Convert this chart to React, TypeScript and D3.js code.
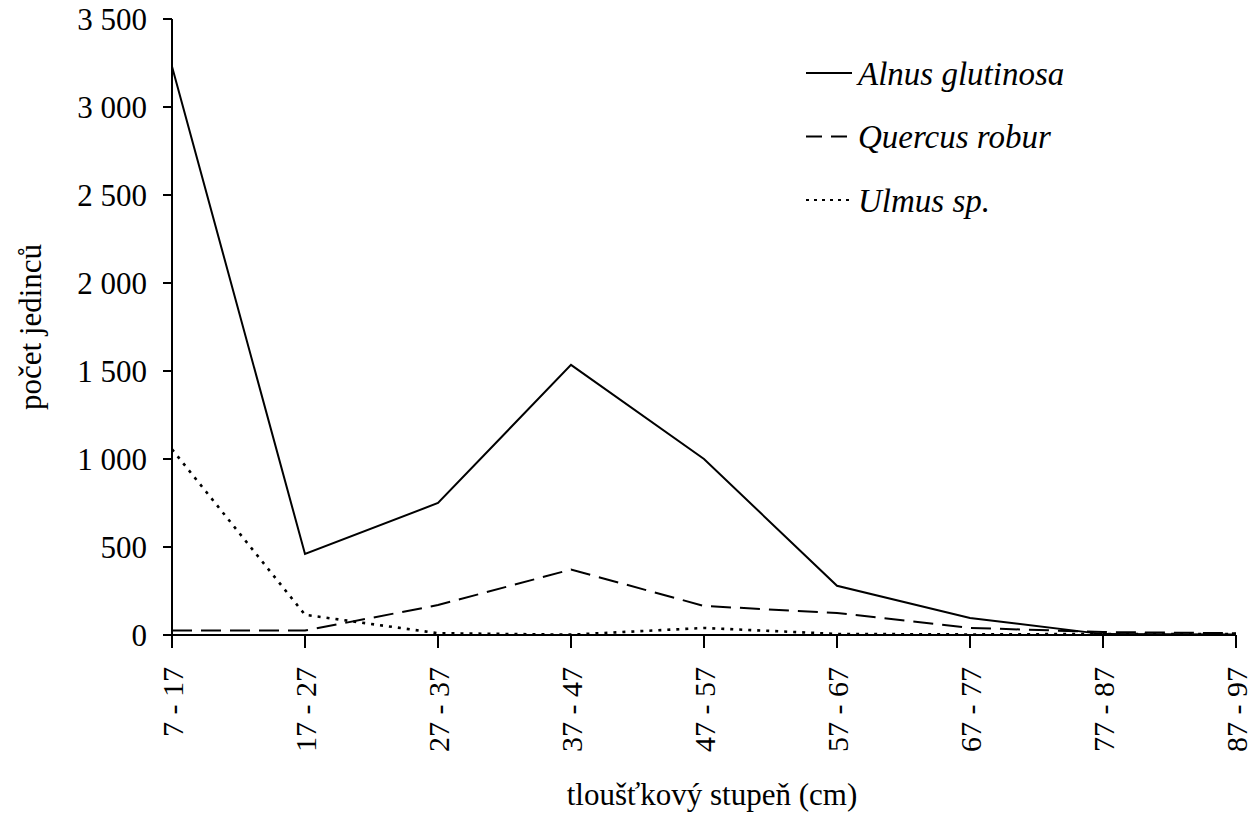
import React from "react";
import * as d3 from "d3";

// tloušťkové stupně (cm)
const classes = ["7 - 17", "17 - 27", "27 - 37", "37 - 47", "47 - 57", "57 - 67", "67 - 77", "77 - 87", "87 - 97"];

const alnus = [3230, 460, 750, 1535, 1000, 280, 97, 5, 3];
const quercus = [25, 25, 170, 372, 165, 125, 40, 17, 10];
const ulmus = [1055, 115, 10, 2, 40, 6, 3, 6, 6];

const yTicks = [0, 500, 1000, 1500, 2000, 2500, 3000, 3500];

const series = [
  { name: "Alnus glutinosa", values: alnus, dash: "none", legendDash: "none", width: 2 },
  { name: "Quercus robur", values: quercus, dash: "20,9", legendDash: "16,9", width: 2 },
  { name: "Ulmus sp.", values: ulmus, dash: "3,6", legendDash: "3,5", width: 2.6 },
];

const W = 1256;
const H = 836;
const FONT = "'Liberation Serif', 'Times New Roman', serif";

export default function App() {
  const x = d3.scalePoint<string>().domain(classes).range([172, 1236]);
  const y = d3.scaleLinear().domain([0, 3500]).range([635, 19]);

  const line = d3
    .line<number>()
    .x((_, i) => x(classes[i])!)
    .y((d) => y(d));

  const fmt = (v: number) => d3.format(",")(v).replace(/,/g, " ");

  return (
    <svg
      width={W}
      height={H}
      style={{ position: "absolute", left: 0, top: 0, background: "#fff", fontFamily: FONT }}
    >
      {/* y axis */}
      <line x1={172} x2={172} y1={y(3500)} y2={y(0)} stroke="#000" strokeWidth={2} />
      {yTicks.map((t) => (
        <g key={t} transform={`translate(0,${y(t)})`}>
          <line x1={163} x2={172} stroke="#000" strokeWidth={2} />
          <text x={147} dy="0.35em" textAnchor="end" fontSize={31}>
            {fmt(t)}
          </text>
        </g>
      ))}

      {/* x axis */}
      <line x1={172} x2={1236} y1={y(0)} y2={y(0)} stroke="#000" strokeWidth={2} />
      {classes.map((c) => (
        <g key={c} transform={`translate(${x(c)},${y(0)})`}>
          <line y1={0} y2={13} stroke="#000" strokeWidth={2} />
          <text
            transform="translate(0,32) rotate(-90)"
            dy="0.35em"
            textAnchor="end"
            fontSize={30}
          >
            {c}
          </text>
        </g>
      ))}

      {/* lines */}
      {series.map((s) => (
        <path
          key={s.name}
          d={line(s.values)!}
          fill="none"
          stroke="#000"
          strokeWidth={s.width}
          strokeDasharray={s.dash}
        />
      ))}

      {/* legend */}
      {series.map((s, i) => (
        <g key={s.name} transform={`translate(806,${73 + i * 63.5})`}>
          <line x1={0} x2={46} stroke="#000" strokeWidth={2} strokeDasharray={s.legendDash} />
          <text x={52} dy="0.35em" fontSize={33} fontStyle="italic">
            {s.name}
          </text>
        </g>
      ))}

      {/* axis titles */}
      <text
        transform={`translate(30,${(y(0) + y(3500)) / 2}) rotate(-90)`}
        textAnchor="middle"
        dy="0.35em"
        fontSize={31}
      >
        počet jedinců
      </text>
      <text x={712} y={805} textAnchor="middle" fontSize={31}>
        tloušťkový stupeň (cm)
      </text>
    </svg>
  );
}
